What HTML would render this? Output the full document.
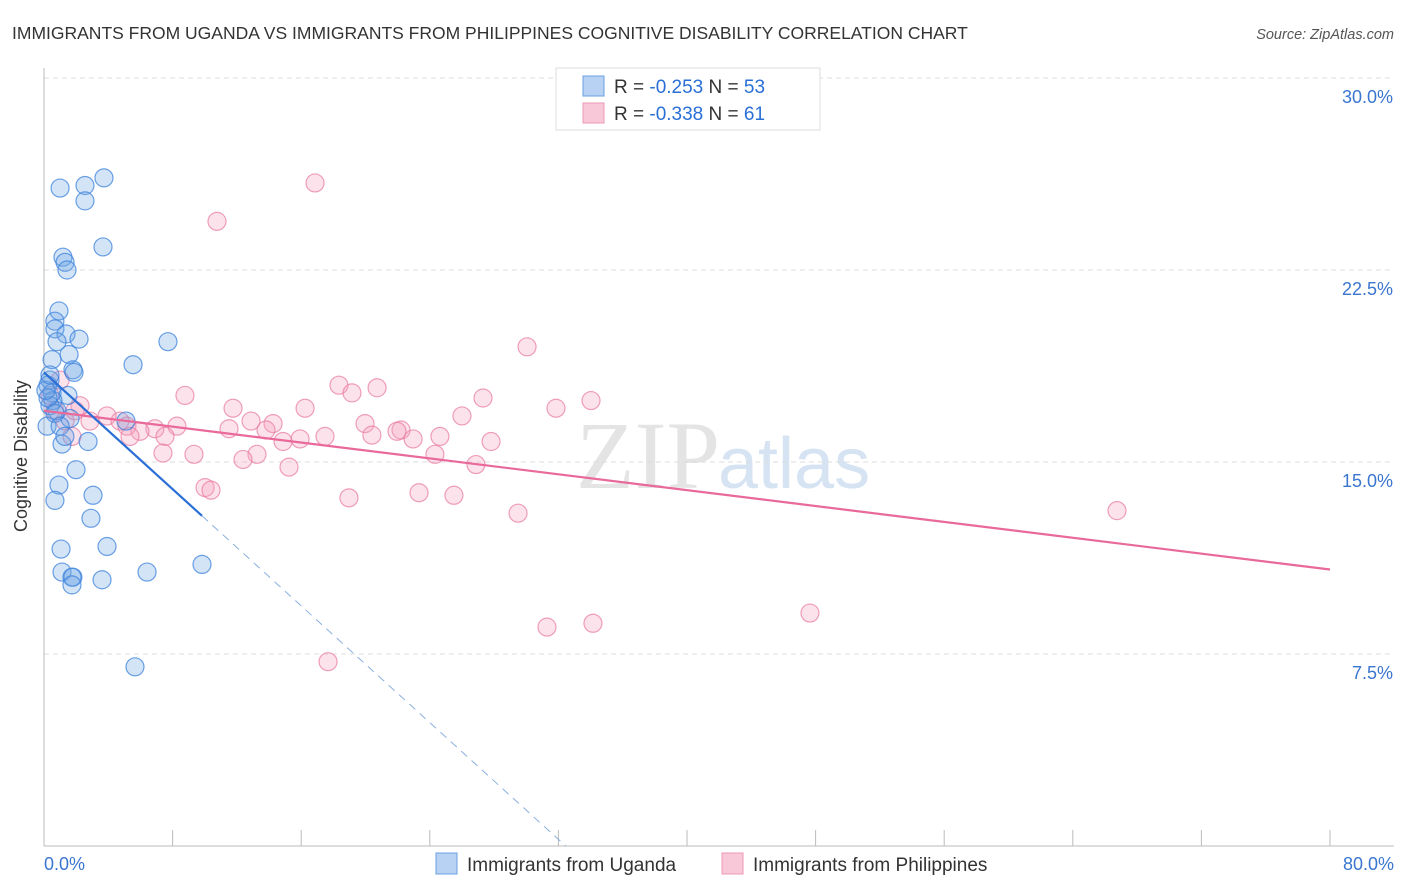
<!DOCTYPE html>
<html><head><meta charset="utf-8"><style>
body{margin:0;background:#fff;font-family:"Liberation Sans",sans-serif}
svg{display:block}
</style></head><body>
<svg id="c" width="1406" height="892" viewBox="0 0 1406 892">
<text x="12" y="39" font-size="17.5" fill="#333">IMMIGRANTS FROM UGANDA VS IMMIGRANTS FROM PHILIPPINES COGNITIVE DISABILITY CORRELATION CHART</text>
<text x="1394" y="39" font-size="14.5" fill="#555" font-style="italic" text-anchor="end">Source: ZipAtlas.com</text>
<text x="720" y="488" font-size="96" fill="#e4e4e4" font-family="Liberation Serif,serif" text-anchor="end">ZIP</text>
<text x="718" y="488" font-size="72" fill="#d6e3f3">atlas</text>
<g id="grid"></g><g id="axes"></g><g id="pts"></g><g id="lines"></g>
<g>
<rect x="556" y="68" width="264" height="62" fill="#fff" stroke="#ddd"/>
<rect x="583" y="76" width="21" height="20" fill="#b8d2f4" stroke="#6a9fe0"/>
<rect x="583" y="103" width="21" height="20" fill="#f9c8d8" stroke="#eb9ab8"/>
<text x="614" y="93" font-size="19" fill="#333">R = <tspan fill="#2a6fd6">-0.253</tspan>   N = <tspan fill="#2a6fd6">53</tspan></text>
<text x="614" y="120" font-size="19" fill="#333">R = <tspan fill="#2a6fd6">-0.338</tspan>   N =  <tspan fill="#2a6fd6">61</tspan></text>
</g>
<g>
<rect x="436" y="853" width="21" height="21" fill="#b8d2f4" stroke="#6a9fe0"/>
<text x="467" y="871" font-size="19" fill="#333">Immigrants from Uganda</text>
<rect x="722" y="853" width="21" height="21" fill="#f9c8d8" stroke="#eb9ab8"/>
<text x="753" y="871" font-size="19" fill="#333">Immigrants from Philippines</text>
</g>
<text x="27" y="456" font-size="18" fill="#333" text-anchor="middle" transform="rotate(-90 27 456)">Cognitive Disability</text>
</svg>
<script>
const yTicks=[7.5,15,22.5,30];
const yTickLabels=["7.5%","15.0%","22.5%","30.0%"];
const xTickLabels=["0.0%","80.0%"];
const ugandaX=[1.0,2.55,3.73,2.55,3.67,1.18,1.31,1.43,0.93,0.68,0.68,1.37,0.81,2.18,7.71,1.56,0.5,5.54,1.8,1.87,0.37,0.25,0.5,1.49,0.56,0.37,0.81,1.62,5.1,0.19,2.74,1.12,1.99,0.93,3.05,0.68,2.92,1.06,3.92,1.12,1.8,1.74,1.74,3.61,6.41,9.83,5.66,0.25,0.12,0.37,0.68,1.0,1.3];
const ugandaY=[25.7,25.8,26.1,25.2,23.4,23.0,22.8,22.5,20.9,20.5,20.2,20.0,19.7,19.8,19.7,19.2,19.0,18.8,18.6,18.5,18.2,18.0,17.7,17.6,17.4,17.2,17.0,16.7,16.6,16.4,15.8,15.7,14.7,14.1,13.7,13.5,12.8,11.6,11.7,10.7,10.5,10.5,10.2,10.4,10.7,11.0,7.0,17.5,17.8,18.4,16.9,16.4,16.0];
const philX=[16.86,10.76,30.05,18.35,20.72,8.77,19.16,27.31,34.03,16.24,31.85,11.76,2.24,3.92,2.86,4.73,12.88,14.25,26.0,19.97,5.16,6.9,8.27,5.97,11.51,13.81,22.21,21.96,20.4,15.93,17.48,5.35,7.53,24.63,22.96,14.87,27.81,1.74,7.4,9.33,24.32,13.25,12.38,26.87,15.24,10.02,10.39,18.97,23.33,25.5,29.49,66.75,47.65,31.29,34.15,17.67,1.0,0.68,1.31,0.37,1.93];
const philY=[25.9,24.4,19.5,18.0,17.9,17.6,17.7,17.5,17.4,17.1,17.1,17.1,17.2,16.8,16.6,16.6,16.6,16.5,16.8,16.5,16.4,16.3,16.4,16.2,16.3,16.25,16.25,16.2,16.05,15.9,16.0,16.0,16.0,16.0,15.9,15.8,15.8,16.0,15.35,15.3,15.3,15.3,15.1,14.9,14.8,14.0,13.9,13.6,13.8,13.7,13.0,13.1,9.1,8.55,8.7,7.2,18.2,17.0,16.6,17.6,17.0];
const ugandaTrend=[18.5,-0.57]; // intercept, slope
const philTrend=[17.0,-0.0775];
const NS="http://www.w3.org/2000/svg";
const X0=44,X1=1330,Y0=846,PX_PER=25.6;
const sx=v=>X0+(v/80)*(X1-X0), sy=v=>Y0-v*PX_PER;
function mk(p,t,a){const e=document.createElementNS(NS,t);for(const k in a)e.setAttribute(k,a[k]);p.appendChild(e);return e;}
const grid=document.getElementById('grid'),axes=document.getElementById('axes'),pts=document.getElementById('pts'),lines=document.getElementById('lines');
yTicks.forEach((t,i)=>{
 const l=mk(grid,'line',{x1:X0,x2:1394,y1:sy(t),y2:sy(t),stroke:'#ddd','stroke-dasharray':'5,4'});
 
 
 const tx=mk(axes,'text',{x:1393,y:sy(t)+25,'font-size':18,fill:'#3a76d0','text-anchor':'end'});
 tx.textContent=yTickLabels[i];
 
 
});
const ya=mk(axes,'line',{x1:X0,x2:X0,y1:68,y2:Y0,stroke:'#bbb'});


const xa=mk(axes,'line',{x1:X0,x2:1394,y1:Y0,y2:Y0,stroke:'#bbb'});


for(let i=0;i<=10;i++){
 const t=mk(axes,'line',{x1:sx(i*8),x2:sx(i*8),y1:830,y2:Y0,stroke:'#bbb'});
 
 
}
[[0,'start',44],[80,'end',1394]].forEach((d,i)=>{
 const t=mk(axes,'text',{x:d[2],y:870,'font-size':18,fill:'#3a76d0','text-anchor':d[1]});
 t.textContent=xTickLabels[i];
 
 
});
philX.forEach((x,i)=>{
 const c=mk(pts,'circle',{cx:sx(x),cy:sy(philY[i]),r:9,fill:'rgba(245,160,190,0.3)',stroke:'rgba(232,120,160,0.7)','stroke-width':1.2});
 
 
});
ugandaX.forEach((x,i)=>{
 const c=mk(pts,'circle',{cx:sx(x),cy:sy(ugandaY[i]),r:9,fill:'rgba(110,165,230,0.3)',stroke:'rgba(60,130,220,0.75)','stroke-width':1.2});
 
 
});
const pl=mk(lines,'line',{x1:sx(0),y1:sy(philTrend[0]),x2:sx(80),y2:sy(philTrend[0]+80*philTrend[1]),stroke:'#e8699a','stroke-width':2.2});


const xe=-ugandaTrend[0]/ugandaTrend[1];
const maxU=Math.max(...ugandaX);
const ul=mk(lines,'line',{x1:sx(0),y1:sy(ugandaTrend[0]),x2:sx(maxU),y2:sy(ugandaTrend[0]+maxU*ugandaTrend[1]),stroke:'#2a6fd6','stroke-width':2.2});


const ud=mk(lines,'line',{x1:sx(maxU),y1:sy(ugandaTrend[0]+maxU*ugandaTrend[1]),x2:sx(xe),y2:sy(0),stroke:'#8ab0e0','stroke-width':1,'stroke-dasharray':'8,6'});


</script>
</body></html>
